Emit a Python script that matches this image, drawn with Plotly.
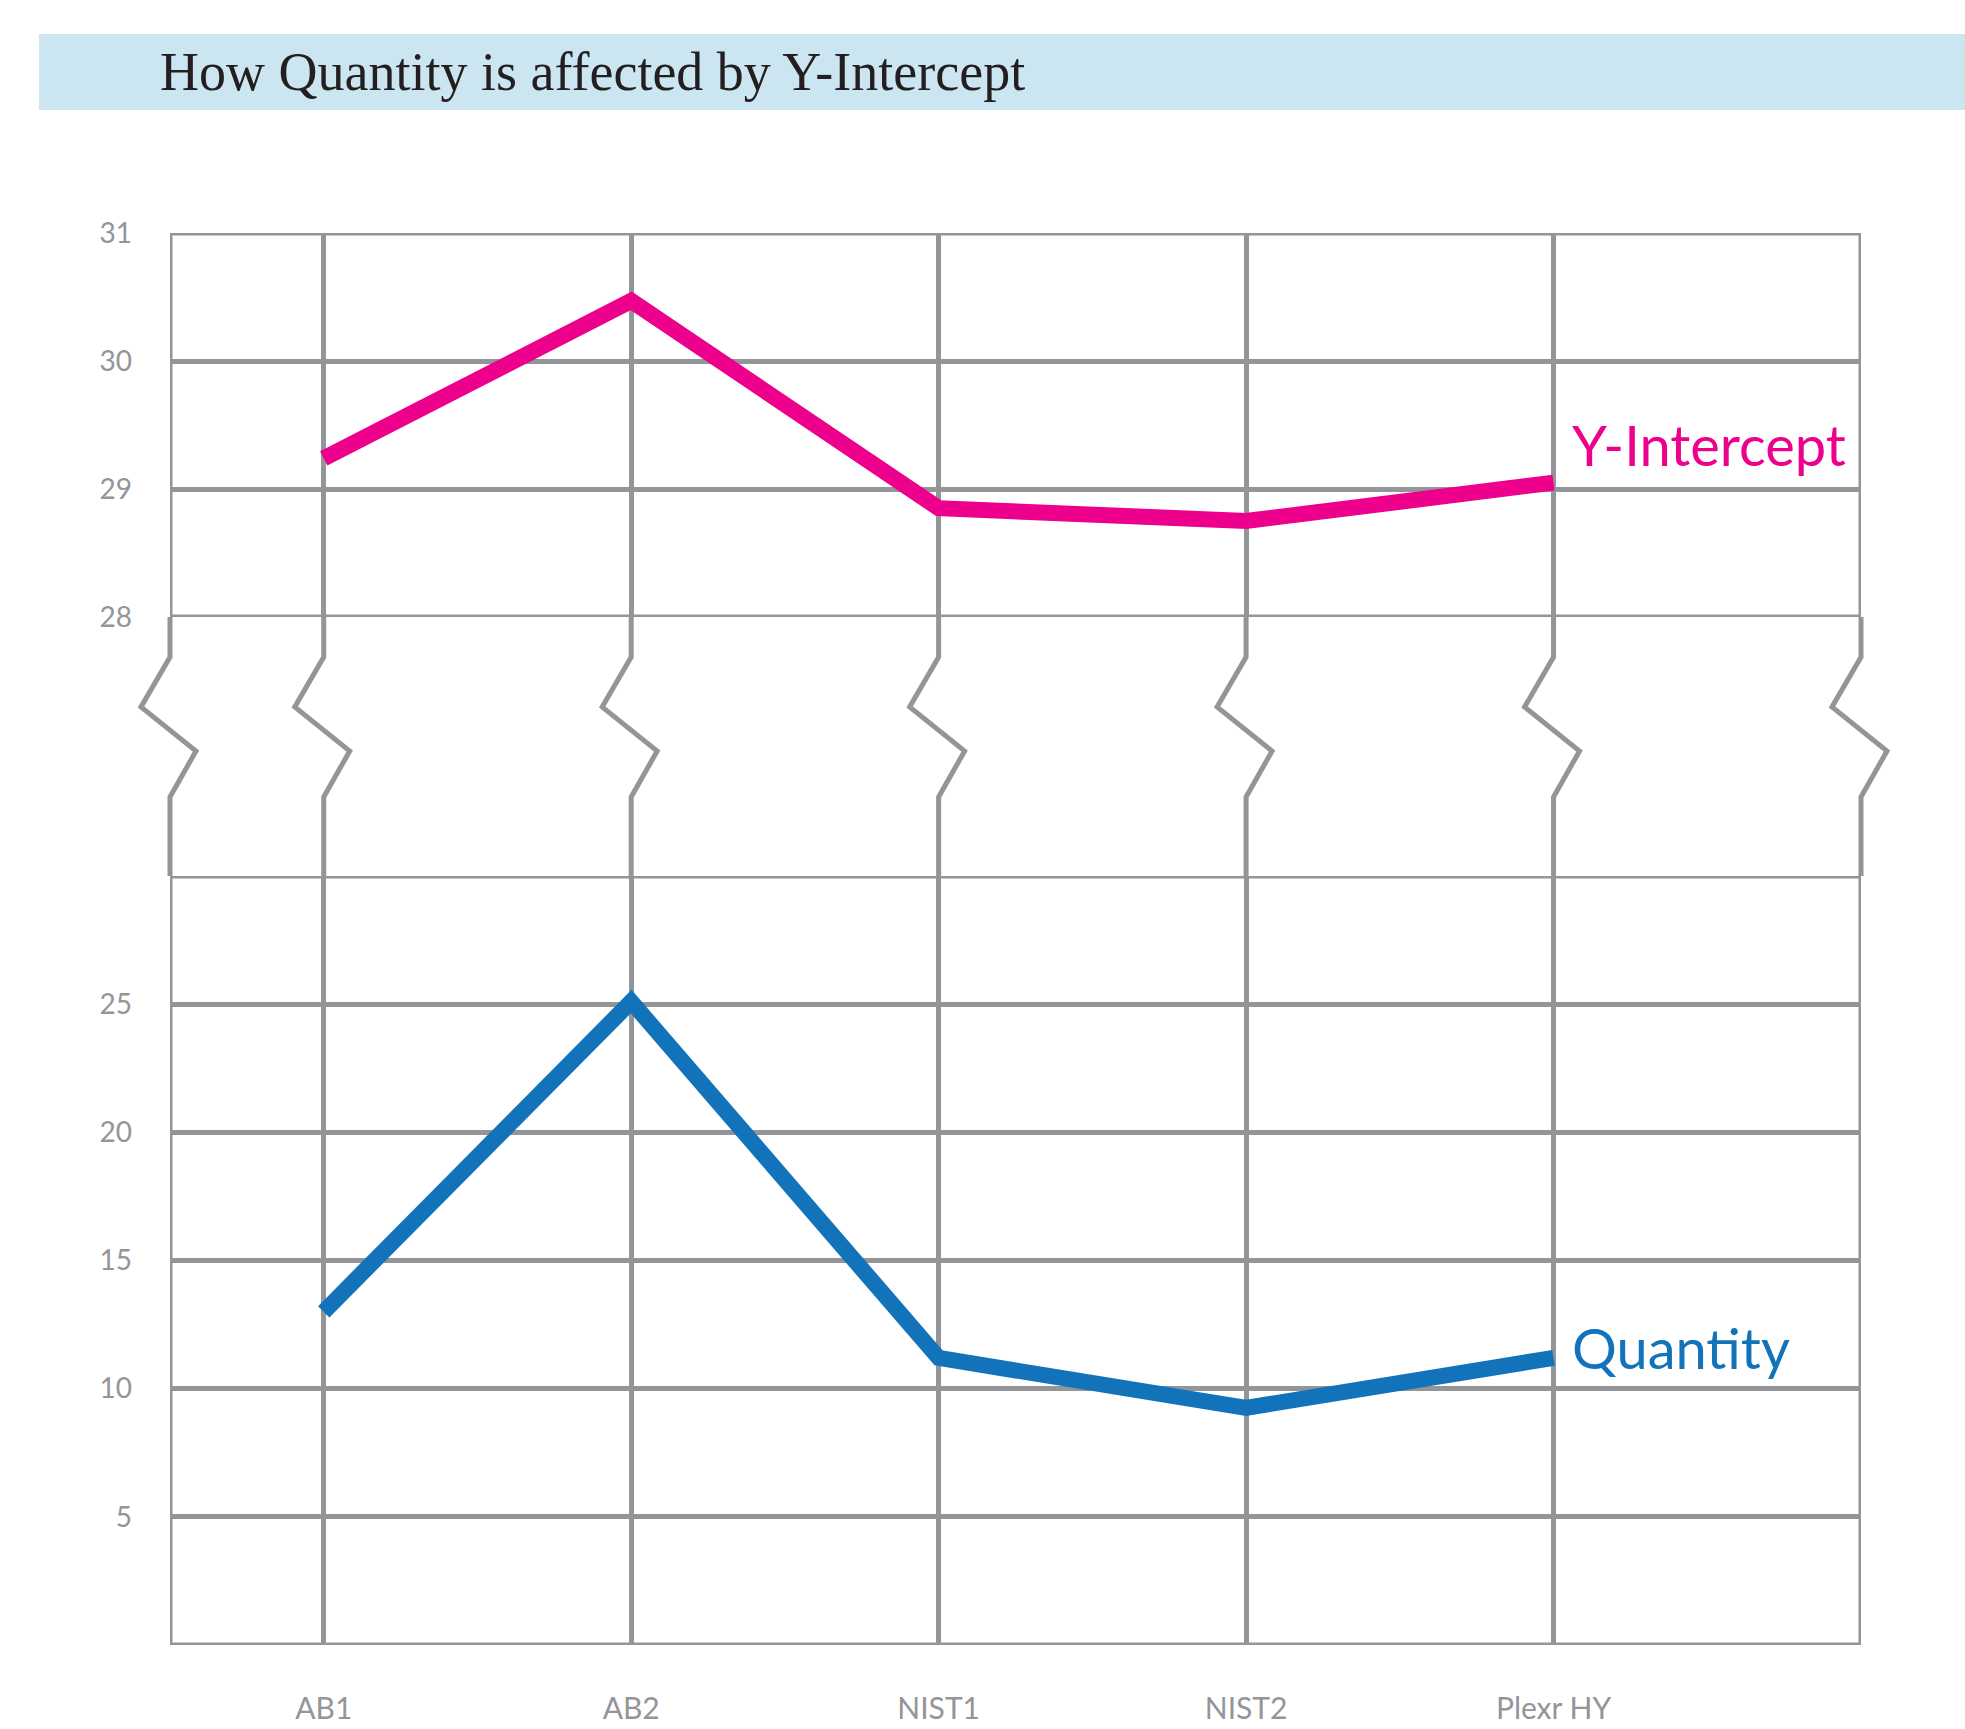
import plotly.graph_objects as go

# ---- data ----
categories = ["AB1", "AB2", "NIST1", "NIST2", "Plexr HY"]
y_intercept = [29.24, 30.47, 28.85, 28.75, 29.05]
quantity = [13.0, 25.1, 11.2, 9.25, 11.2]
upper_ticks = [28, 29, 30, 31]
lower_ticks = [0, 5, 10, 15, 20, 25, 30]
lower_ticktext = ["", "5", "10", "15", "20", "25", ""]

GRAY = "#939598"
PINK = "#ec008c"
BLUE = "#1273ba"
W, H = 1965, 1729
ML, MR, MT, MB = 170, 104, 233, 84
PW, PH = W - ML - MR, H - MT - MB

def py(pix):  # figure pixel y -> paper y
    return (H - MB - pix) / PH

def px(pix):  # figure pixel x -> paper x
    return (pix - ML) / PW

xs = list(range(len(categories)))
xmin, xmax = -0.5, float(len(categories))
upper_dom = [py(617), 1.0]
lower_dom = [0.0, py(876)]

fig = go.Figure()
fig.add_trace(go.Scatter(x=xs, y=y_intercept, mode="lines", xaxis="x", yaxis="y",
                         line=dict(color=PINK, width=16), hoverinfo="skip", showlegend=False))
fig.add_trace(go.Scatter(x=xs, y=quantity, mode="lines", xaxis="x", yaxis="y2",
                         line=dict(color=BLUE, width=16), hoverinfo="skip", showlegend=False))

shapes = []
# title band
shapes.append(dict(type="rect", xref="paper", yref="paper", x0=px(39), x1=px(1965),
                   y0=py(110), y1=py(34), fillcolor="#cbe5f1", line=dict(width=0), layer="below"))
# panel frames
shapes.append(dict(type="rect", xref="x", yref="y", x0=xmin, x1=xmax, y0=28, y1=31,
                   line=dict(color=GRAY, width=5)))
shapes.append(dict(type="rect", xref="x", yref="y2", x0=xmin, x1=xmax, y0=0, y1=30,
                   line=dict(color=GRAY, width=5)))
# broken vertical lines in the gap (paper coords so they are not clipped)
dl, dr = -29 / PW, 26 / PW
for xv in [xmin] + xs + [xmax]:
    xp = (xv - xmin) / (xmax - xmin)
    pts = [(xp, py(617)), (xp, py(657)), (xp + dl, py(707)), (xp + dr, py(751)),
           (xp, py(797)), (xp, py(876))]
    path = "M " + " L ".join(f"{a},{b}" for a, b in pts)
    shapes.append(dict(type="path", xref="paper", yref="paper", path=path,
                       line=dict(color=GRAY, width=5)))

annotations = [
    dict(text="How Quantity is affected by Y-Intercept", xref="paper", yref="paper",
         x=px(158), y=py(72), xanchor="left", yanchor="middle", showarrow=False,
         font=dict(family="Liberation Serif", size=54, color="#231f20")),
    dict(text="Y-Intercept", xref="x", yref="y", x=xs[-1], y=y_intercept[-1],
         xanchor="left", yanchor="middle", xshift=16, yshift=38, showarrow=False,
         font=dict(family="Lato", size=56, color=PINK)),
    dict(text="Quantity", xref="x", yref="y2", x=xs[-1], y=quantity[-1],
         xanchor="left", yanchor="middle", xshift=16, yshift=10, showarrow=False,
         font=dict(family="Lato", size=56, color=BLUE)),
]

fig.update_layout(
    width=W, height=H, margin=dict(l=ML, r=MR, t=MT, b=MB, autoexpand=False),
    paper_bgcolor="white", plot_bgcolor="white",
    shapes=shapes, annotations=annotations,
    xaxis=dict(range=[xmin, xmax], tickvals=xs, ticktext=categories, automargin=False,
               showgrid=True, gridcolor=GRAY, gridwidth=5, zeroline=False, showline=False,
               anchor="y2", ticks="", ticklabelstandoff=43,
               tickfont=dict(family="Lato", size=30, color=GRAY)),
    yaxis=dict(domain=upper_dom, range=[28, 31], tickvals=upper_ticks, anchor="x",
               automargin=False,
               showgrid=True, gridcolor=GRAY, gridwidth=5, zeroline=False, showline=False,
               ticks="", ticklabelstandoff=37,
               tickfont=dict(family="Lato", size=28, color=GRAY)),
    yaxis2=dict(domain=lower_dom, range=[0, 30], tickvals=lower_ticks, ticktext=lower_ticktext,
                anchor="x", automargin=False, showgrid=True, gridcolor=GRAY, gridwidth=5,
                zeroline=False, showline=False, ticks="", ticklabelstandoff=37,
                tickfont=dict(family="Lato", size=28, color=GRAY)),
)

fig.write_html("out.html", config={"displayModeBar": False},
               post_script="document.body.style.margin='0';document.body.style.padding='0';")
